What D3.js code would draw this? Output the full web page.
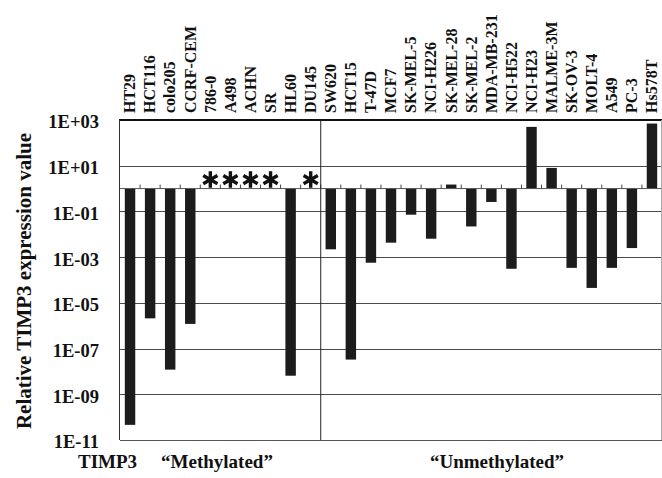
<!DOCTYPE html>
<html>
<head>
<meta charset="utf-8">
<script src="https://cdn.jsdelivr.net/npm/d3@7"></script>
<style>
  body { margin: 0; background: #fff; }
  svg text { font-family: "Liberation Serif", "Times New Roman", serif; font-weight: bold; fill: #111; }
</style>
</head>
<body>
<svg id="chart" width="662" height="478"></svg>
<script>
// cell lines, in plot order
const methylated = ["HT29", "HCT116", "colo205", "CCRF-CEM", "786-0", "A498", "ACHN", "SR", "HL60", "DU145"];
const unmethylated = ["SW620", "HCT15", "T-47D", "MCF7", "SK-MEL-5", "NCI-H226", "SK-MEL-28", "SK-MEL-2",
    "MDA-MB-231", "NCI-H522", "NCI-H23", "MALME-3M", "SK-OV-3", "MOLT-4", "A549", "PC-3", "Hs578T"];

// relative expression (null = not detected, shown as *)
const methylatedValues = [4.6e-11, 2.1e-6, 1.2e-8, 1.2e-6, null, null, null, null, 6.5e-9, null];
const unmethylatedValues = [2.2e-3, 3.3e-8, 5.7e-4, 4.3e-3, 7.2e-2, 6.4e-3, 1.5, 2.2e-2,
    0.26, 3.1e-4, 500, 8, 3.4e-4, 4.5e-5, 3.4e-4, 2.5e-3, 700];

const yTickValues = [1e3, 1e1, 1e-1, 1e-3, 1e-5, 1e-7, 1e-9, 1e-11];
const groupLabels = ["\u201cMethylated\u201d", "\u201cUnmethylated\u201d"];

const categories = methylated.concat(unmethylated);
const values = methylatedValues.concat(unmethylatedValues);
const data = categories.map((c, i) => ({name: c, value: values[i]}));

const margin = {top: 120, right: 0, bottom: 38, left: 120},
    width = 662 - margin.left - margin.right,
    height = 478 - margin.top - margin.bottom;

const svg = d3.select("#chart");
const g = svg.append("g").attr("transform", `translate(${margin.left},${margin.top})`);

const x = d3.scaleBand()
    .domain(categories)
    .range([0, width])
    .paddingInner(0.48)
    .paddingOuter(0.24);

const y = d3.scaleLog()
    .domain([1e-11, 1e3])
    .range([height, 0]);

function fmt(v) {
    const e = Math.round(Math.log10(v));
    return "1E" + (e < 0 ? "-" : "+") + String(Math.abs(e)).padStart(2, "0");
}

// gridlines
g.selectAll(".grid")
    .data(yTickValues.slice(1, -1))
    .enter().append("line")
    .attr("x1", 0).attr("x2", width)
    .attr("y1", d => Math.round(y(d)) + 0.5).attr("y2", d => Math.round(y(d)) + 0.5)
    .attr("stroke", "#4a4a4a").attr("stroke-width", 1);

// y labels
g.selectAll(".ylab")
    .data(yTickValues)
    .enter().append("text")
    .attr("x", -21)
    .attr("y", d => y(d) + 2)
    .attr("dy", "0.35em")
    .attr("text-anchor", "end")
    .style("font-size", "18.5px")
    .text(fmt);

// bars
const base = y(1);
g.selectAll(".bar")
    .data(data.filter(d => d.value != null))
    .enter().append("rect")
    .attr("x", d => x(d.name))
    .attr("width", x.bandwidth())
    .attr("y", d => Math.min(y(d.value), base))
    .attr("height", d => Math.abs(y(d.value) - base))
    .attr("fill", "#1c1c1c");

// baseline at 1 with small ticks between categories
g.append("line")
    .attr("x1", 0).attr("x2", width)
    .attr("y1", base).attr("y2", base)
    .attr("stroke", "#555").attr("stroke-width", 1);
g.selectAll(".tick")
    .data(categories.slice(1))
    .enter().append("line")
    .attr("x1", d => x(d) - x.step() * x.paddingInner() / 2)
    .attr("x2", d => x(d) - x.step() * x.paddingInner() / 2)
    .attr("y1", base).attr("y2", base - 4)
    .attr("stroke", "#444").attr("stroke-width", 1);

// not detected markers
g.selectAll(".star")
    .data(data.filter(d => d.value == null))
    .enter().append("path")
    .attr("transform", d => `translate(${x(d.name) + x.bandwidth() / 2},${base - 9})`)
    .attr("d", d3.symbol(d3.symbolAsterisk, 190)())
    .attr("stroke", "#111").attr("stroke-width", 3.4).attr("fill", "none");

// frame
g.append("line").attr("x1", -1).attr("x2", width).attr("y1", 0).attr("y2", 0)
    .attr("stroke", "#111").attr("stroke-width", 2);
g.append("line").attr("x1", -0.5).attr("x2", -0.5).attr("y1", 0).attr("y2", height)
    .attr("stroke", "#333").attr("stroke-width", 1);
g.append("line").attr("x1", 0).attr("x2", width).attr("y1", height + 0.5).attr("y2", height + 0.5)
    .attr("stroke", "#555").attr("stroke-width", 1);
g.append("line").attr("x1", width - 0.5).attr("x2", width - 0.5).attr("y1", 0).attr("y2", height)
    .attr("stroke", "#aaa").attr("stroke-width", 1);
const sep = x(unmethylated[0]) - x.step() * x.paddingInner() / 2;
g.append("line").attr("x1", sep).attr("x2", sep).attr("y1", 0).attr("y2", height)
    .attr("stroke", "#222").attr("stroke-width", 1);

// category labels on top
g.selectAll(".cat")
    .data(categories)
    .enter().append("text")
    .attr("transform", d => `translate(${x(d) + x.bandwidth() / 2},-7) rotate(-90)`)
    .attr("dy", "0.33em")
    .style("font-size", "16px")
    .text(d => d);

// y title
svg.append("text")
    .attr("transform", "translate(24,281) rotate(-90)")
    .attr("text-anchor", "middle")
    .attr("dy", "0.35em")
    .style("font-size", "21px")
    .text("Relative TIMP3 expression value");

// bottom labels
svg.append("text").attr("x", 78).attr("y", 468).style("font-size", "19px").text("TIMP3");
svg.append("text").attr("x", 217).attr("y", 468).attr("text-anchor", "middle")
    .style("font-size", "19px").text(groupLabels[0]);
svg.append("text").attr("x", 497).attr("y", 468).attr("text-anchor", "middle")
    .style("font-size", "19px").text(groupLabels[1]);
</script>
</body>
</html>
